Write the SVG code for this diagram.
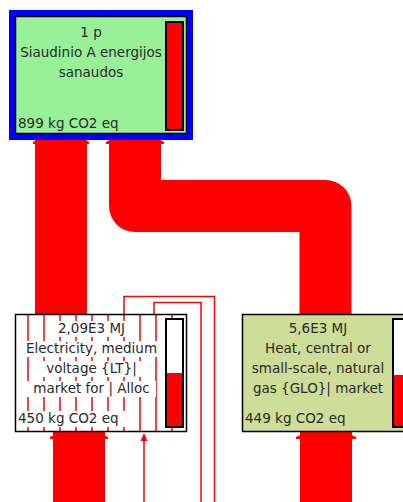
<svg xmlns="http://www.w3.org/2000/svg" width="403" height="502" viewBox="0 0 403 502">
<style>
.band{fill:none;stroke:#ff0000;stroke-width:52;stroke-linejoin:round}
.thin{fill:none;stroke:#ff0000;stroke-width:1.5}
.head{fill:#ff0000}
.box{stroke:#000;stroke-width:1.5}
.bar{stroke:#000;stroke-width:2;fill:#fff}
.lvl{fill:#ff0000}
.bg{fill:#fff}
text{font-family:"DejaVu Sans","Liberation Sans",sans-serif;font-size:13.5px;fill:#2a2a2a}
.c{text-anchor:middle}
</style>
<rect width="403" height="502" fill="#fff"/>
<g id="connectors">
  <path class="band" d="M61,140 V314"/>
  <path class="band" d="M135,140 V206 H325.5 V314"/>
  <path class="band" d="M79,432 V502"/>
  <path class="band" d="M326,432 V502"/>
  <polygon class="head" points="42,137 80,137 89,142 89,144 33,144 33,142"/>
  <polygon class="head" points="116,137 154,137 164,142 164,144 106,144 106,142"/>
  <polygon class="head" points="61,432 97,432 108,437 108,439 50,439 50,437"/>
  <polygon class="head" points="307,432 345,432 356,437 356,439 296,439 296,437"/>
  <path class="thin" d="M124,314 V296.5 H214.5 V502"/>
  <path class="thin" d="M154,314 V302.5 H201 V502"/>
  <path class="thin" d="M144,440 V502"/>
  <polygon class="head" points="144,433 140.5,441 147.5,441"/>
  <path class="thin" d="M28,314 V432 M44,314 V432 M60,314 V432 M76,314 V432 M92,314 V432 M108,314 V432 M124,314 V432 M140,314 V432 M156,314 V432 M172,314 V432"/>
</g>
<g id="node-siaudinio">
  <rect x="12" y="13" width="178" height="124" fill="none" stroke="#0000ff" stroke-width="6"/>
  <rect class="box" x="15.5" y="16.5" width="171" height="117" fill="#98f098"/>
  <rect x="166" y="22" width="17" height="108" fill="#ff0000" stroke="#000" stroke-width="2"/>
  <text class="c" x="91" y="37">1 p</text>
  <text class="c" x="91" y="57">Siaudinio A energijos</text>
  <text class="c" x="91" y="76.5">sanaudos</text>
  <text x="18" y="128">899 kg CO2 eq</text>
</g>
<g id="node-electricity">
  <rect class="bg" x="56" y="321" width="71" height="16"/>
  <rect class="bg" x="23" y="341" width="136" height="16"/>
  <rect class="bg" x="40" y="361" width="102" height="16"/>
  <rect class="bg" x="26" y="381" width="130" height="16"/>
  <rect class="bg" x="17" y="411" width="109" height="16"/>
  <text class="c" x="91.5" y="333">2,09E3 MJ</text>
  <text class="c" x="91.5" y="353">Electricity, medium</text>
  <text class="c" x="91.5" y="373">voltage {LT}|</text>
  <text class="c" x="91.5" y="392.5">market for | Alloc</text>
  <text x="18" y="423">450 kg CO2 eq</text>
  <rect class="bar" x="166" y="319" width="17" height="108"/>
  <rect class="lvl" x="167" y="373" width="15" height="53"/>
  <rect class="box" x="15.5" y="314.5" width="171" height="117" fill="none"/>
</g>
<g id="node-heat">
  <rect class="box" x="242.5" y="314.5" width="171" height="117" fill="#cedd98"/>
  <text class="c" x="318" y="333">5,6E3 MJ</text>
  <text class="c" x="318" y="353">Heat, central or</text>
  <text class="c" x="318" y="373">small-scale, natural</text>
  <text class="c" x="318" y="392.5">gas {GLO}| market</text>
  <text x="245" y="423">449 kg CO2 eq</text>
  <rect class="bar" x="393" y="319" width="17" height="108"/>
  <rect class="lvl" x="394" y="375" width="15" height="51"/>
</g>
</svg>
